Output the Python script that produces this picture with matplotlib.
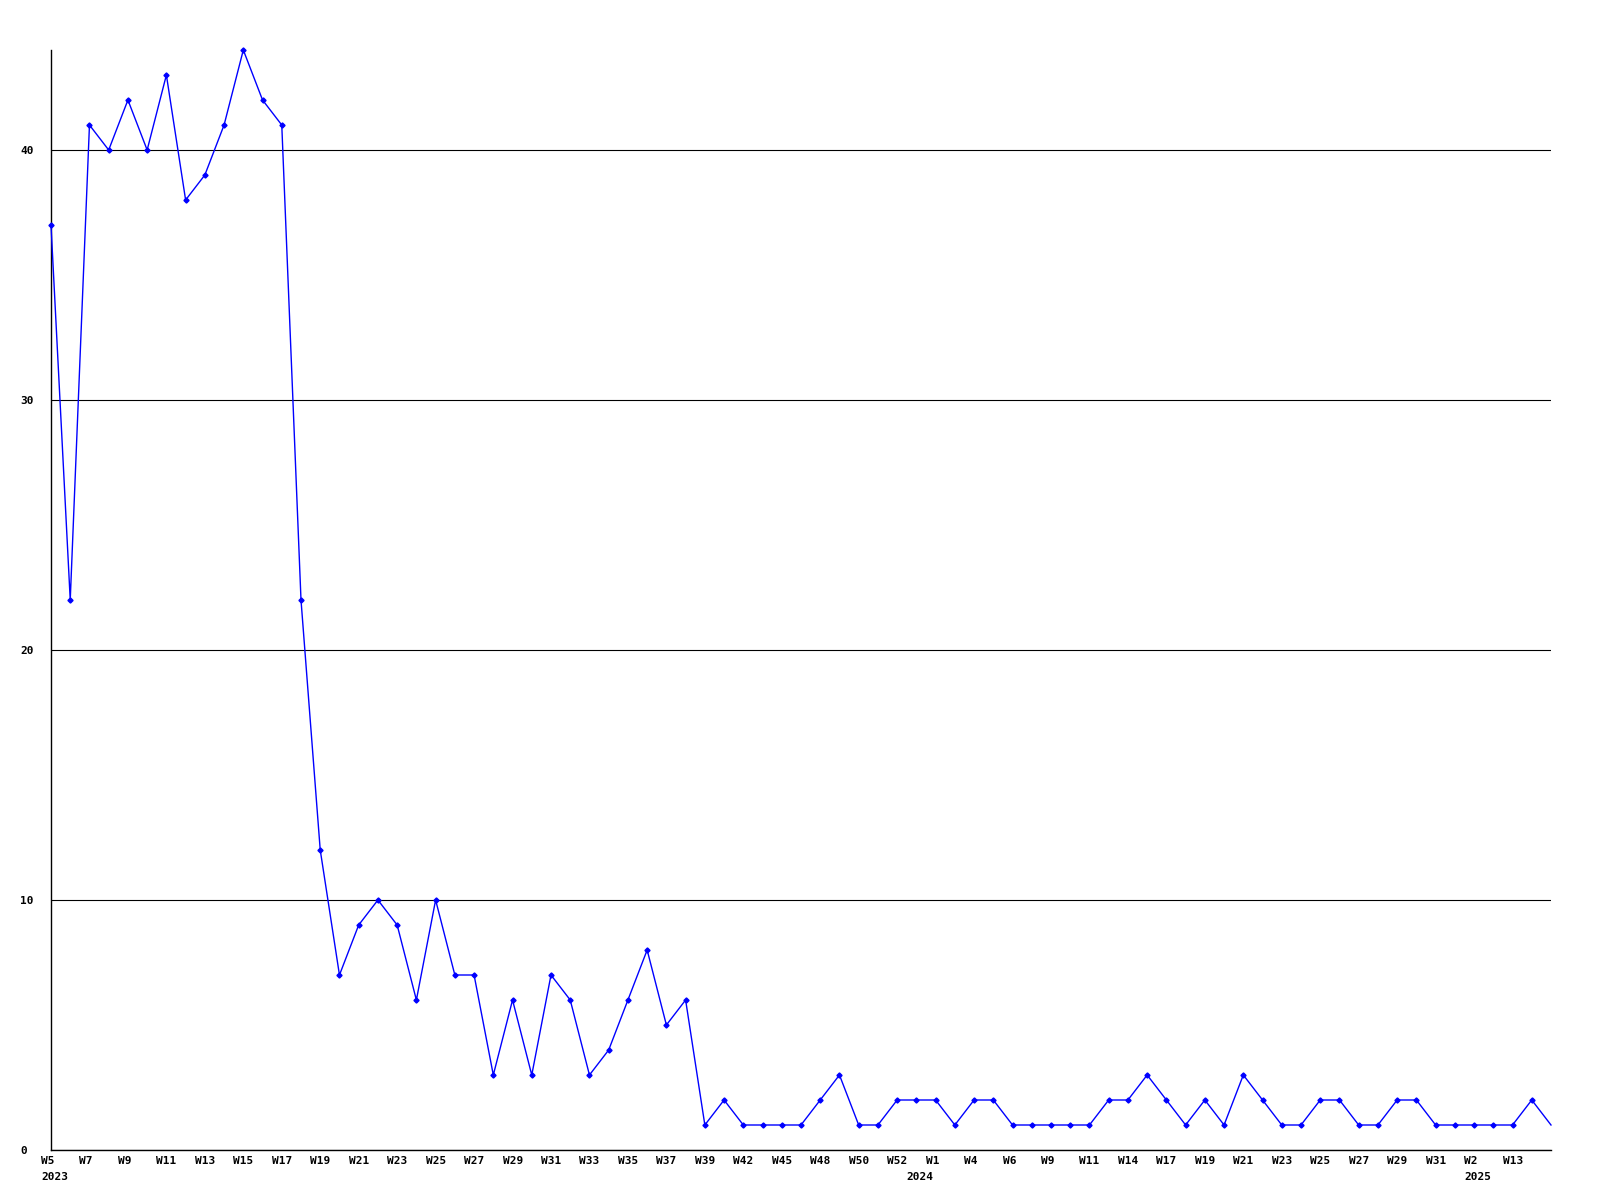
import matplotlib.pyplot as plt

# weekly counts, one point per week that has data
values = [37, 22, 41, 40, 42, 40, 43, 38, 39, 41, 44, 42, 41, 22, 12, 7, 9, 10, 9, 6,
          10, 7, 7, 3, 6, 3, 7, 6, 3, 4, 6, 8, 5, 6, 1, 2, 1, 1, 1, 1,
          2, 3, 1, 1, 2, 2, 2, 1, 2, 2, 1, 1, 1, 1, 1, 2, 2, 3, 2, 1,
          2, 1, 3, 2, 1, 1, 2, 2, 1, 1, 2, 2, 1, 1, 1, 1, 1, 2, 1]

# week labels: (point index, text)
week_pos = [0, 2, 4, 6, 8, 10, 12, 14, 16, 18, 20, 22, 24, 26, 28, 30, 32, 34, 36, 38,
            40, 42, 44, 46, 48, 50, 52, 54, 56, 58, 60, 62, 64, 66, 68, 70, 72, 74, 76]
week_labels = ["W5", "W7", "W9", "W11", "W13", "W15", "W17", "W19", "W21", "W23",
               "W25", "W27", "W29", "W31", "W33", "W35", "W37", "W39", "W42", "W45",
               "W48", "W50", "W52", "W1", "W4", "W6", "W9", "W11", "W14", "W17",
               "W19", "W21", "W23", "W25", "W27", "W29", "W31", "W2", "W13"]
year_pos = [0, 45, 74]
year_labels = ["2023", "2024", "2025"]

yticks = [0, 10, 20, 30, 40]

font = dict(family="DejaVu Sans Mono", weight="bold", fontsize=8)

fig = plt.figure(figsize=(16, 12), dpi=100)
ax = fig.add_axes([51 / 1600, 1 - 1150 / 1200, (1551 - 51) / 1600, 1100 / 1200])

x = list(range(len(values)))
ax.plot(x, values, color="#0000ff", lw=1.0, marker="D", markersize=2.6,
        markevery=list(range(len(values) - 1)), clip_on=False, zorder=3)

ax.set_xlim(0, len(values) - 1)
ax.set_ylim(0, max(values))

for s in ["top", "right"]:
    ax.spines[s].set_visible(False)
for s in ["left", "bottom"]:
    ax.spines[s].set_linewidth(1.0)
    ax.spines[s].set_color("black")

ax.set_yticks(yticks)
ax.set_yticklabels([str(t) for t in yticks], ha="left", **font)
ax.tick_params(axis="y", length=0, pad=22)
ax.yaxis.grid(True, color="black", lw=0.8)
ax.set_axisbelow(True)

ax.set_xticks([])
for p, lab in zip(week_pos, week_labels):
    ax.annotate(lab, xy=(p, 0), xycoords=("data", "axes fraction"),
                xytext=(-10, -11), textcoords="offset pixels",
                ha="left", va="center", annotation_clip=False, **font)
for p, lab in zip(year_pos, year_labels):
    ax.annotate(lab, xy=(p, 0), xycoords=("data", "axes fraction"),
                xytext=(-10, -27), textcoords="offset pixels",
                ha="left", va="center", annotation_clip=False, **font)

fig.savefig("out.png", dpi=100)
